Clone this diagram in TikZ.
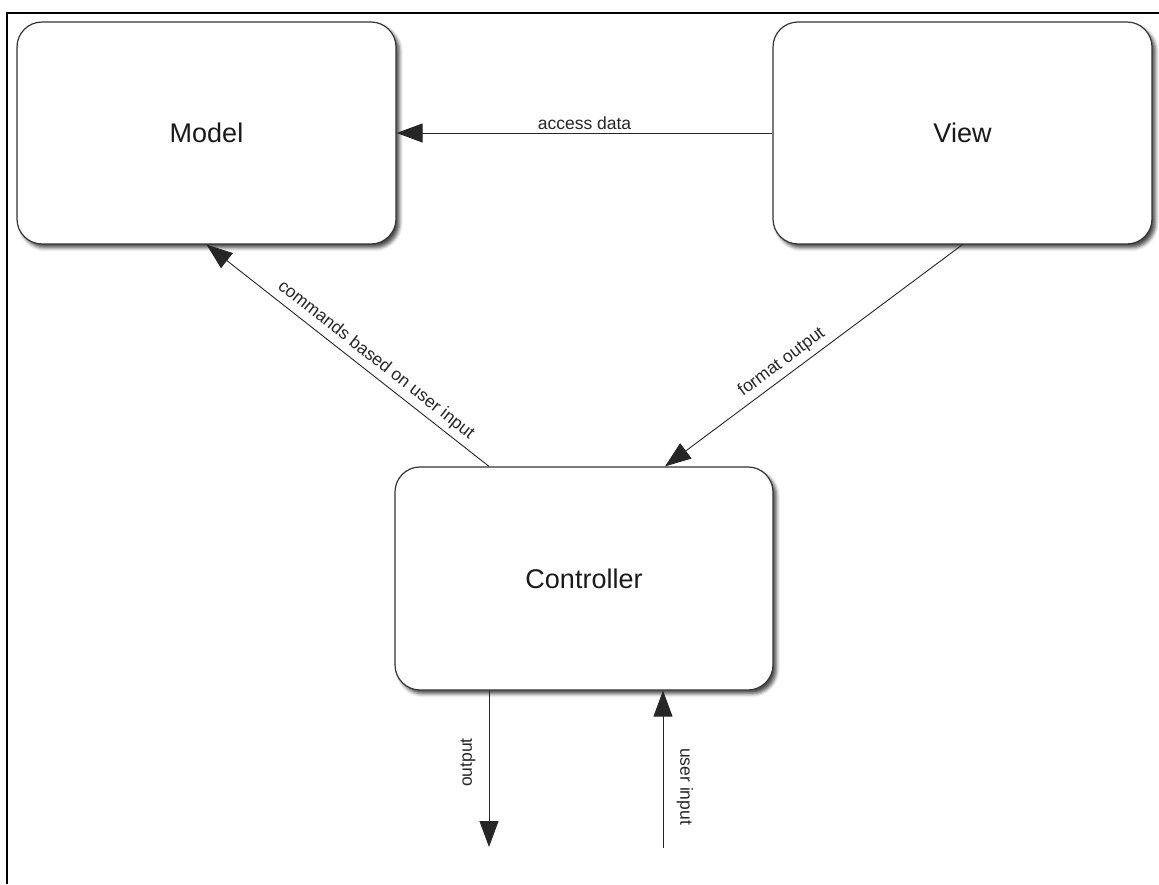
\documentclass[tikz,border=0pt]{standalone}
\usepackage{fontspec}
\setmainfont{Liberation Sans}
\usetikzlibrary{arrows.meta,shadows.blur,calc}
\begin{document}
\begin{tikzpicture}[x=1pt,y=1pt,
  >={Triangle[length=26pt,width=19pt]},
  box/.style={draw=black!80, line width=1.2pt, rounded corners=25pt, fill=white,
    minimum width=379pt, minimum height=222pt, inner sep=0pt,
    font=\fontsize{27}{32}\selectfont, text=black!90,
    blur shadow={shadow xshift=3.5pt, shadow yshift=-4pt, shadow blur radius=3.5pt, shadow opacity=70}},
  conn/.style={line width=0.9pt, draw=black!85},
  lbl/.style={font=\fontsize{17.5}{20}\selectfont, text=black!85, inner sep=2pt}]
\useasboundingbox (0,0) rectangle (1159,884);
% frame
\draw[line width=2.5pt, line join=miter] (1159,871) -- (7,871) -- (7,0);
% boxes
\node[box] (m) at (206.5,751) {Model};
\node[box] (v) at (962.5,751) {View};
\node[box, minimum width=378pt, minimum height=223pt] (c) at (584,305.5) {Controller};
% free ends
\coordinate (oe) at (489,37);
\coordinate (ui) at (663,36);
% connectors
\draw[conn,->] (v.west) -- node[lbl, above=1pt] {access data} (m.east);
\draw[conn,<-] (m.south) -- node[lbl, pos=0.57, above=3pt, sloped] {commands based on user input} ([xshift=-95pt]c.north);
\draw[conn,<-] ([xshift=81pt]c.north) -- node[lbl, pos=0.42, above=3pt, sloped] {format output} (v.south);
\draw[conn,->] ([xshift=-95pt]c.south) -- node[lbl, pos=0.46, xshift=-21pt, rotate=90] {output} (oe);
\draw[conn,->] (ui) -- node[lbl, pos=0.39, xshift=22pt, rotate=-90] {user input} ([xshift=79pt]c.south);
\end{tikzpicture}
\end{document}
